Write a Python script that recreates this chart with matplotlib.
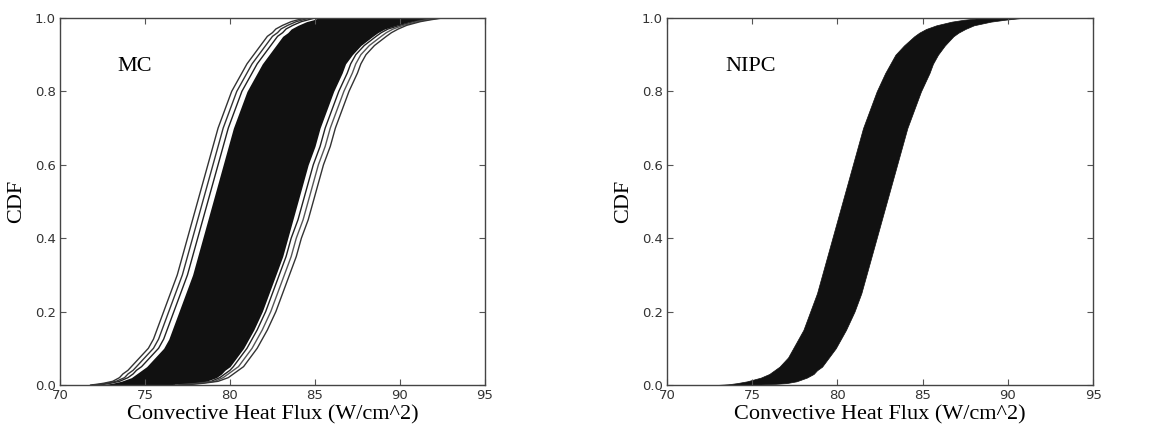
import matplotlib
matplotlib.use('Agg')
import matplotlib.pyplot as plt

cdf_levels = [0.0, 0.002, 0.005, 0.01, 0.02, 0.03, 0.04, 0.05, 0.075, 0.1, 0.125,
              0.15, 0.2, 0.25, 0.3, 0.35, 0.4, 0.45, 0.5, 0.55, 0.6, 0.65, 0.7,
              0.75, 0.8, 0.85, 0.875, 0.9, 0.925, 0.95, 0.96, 0.97, 0.98, 0.99,
              0.995, 1.0]

# MC: a few separate outer sample CDFs, and the dense black core between them
mc_left_a = [71.8, 72.2, 72.6, 73.1, 73.5, 73.7, 74.0, 74.2, 74.7, 75.2, 75.5,
             75.7, 76.1, 76.5, 76.9, 77.2, 77.5, 77.8, 78.1, 78.4, 78.7, 79.0,
             79.3, 79.7, 80.1, 80.7, 81.0, 81.4, 81.8, 82.2, 82.5, 82.7, 83.1,
             83.6, 84.0, 84.5]
mc_left_b = [71.9, 72.4, 72.8, 73.3, 73.8, 74.0, 74.3, 74.5, 75.0, 75.5, 75.8,
             76.0, 76.4, 76.8, 77.2, 77.5, 77.8, 78.1, 78.4, 78.7, 79.0, 79.3,
             79.6, 80.0, 80.4, 81.0, 81.3, 81.7, 82.1, 82.5, 82.8, 83.0, 83.4,
             83.9, 84.3, 84.7]
mc_left_c = [72.0, 72.6, 73.0, 73.5, 74.0, 74.3, 74.5, 74.8, 75.3, 75.8, 76.1,
             76.3, 76.7, 77.1, 77.5, 77.8, 78.1, 78.4, 78.7, 79.0, 79.3, 79.6,
             79.9, 80.3, 80.7, 81.3, 81.6, 82.0, 82.4, 82.8, 83.1, 83.3, 83.7,
             84.2, 84.6, 85.0]
mc_core_left = [72.1, 72.7, 73.1, 73.6, 74.2, 74.5, 74.8, 75.1, 75.6, 76.1, 76.4,
                76.6, 77.0, 77.4, 77.8, 78.1, 78.4, 78.7, 79.0, 79.3, 79.6, 79.9,
                80.2, 80.6, 81.0, 81.6, 81.9, 82.3, 82.7, 83.1, 83.4, 83.6, 84.0,
                84.5, 84.9, 85.2]
mc_core_right = [76.5, 77.2, 77.9, 78.6, 79.2, 79.5, 79.7, 80.0, 80.4, 80.8, 81.1,
                 81.4, 81.9, 82.3, 82.7, 83.1, 83.4, 83.7, 84.0, 84.3, 84.6, 85.0,
                 85.3, 85.7, 86.1, 86.6, 86.8, 87.2, 87.7, 88.4, 88.7, 89.1, 89.8,
                 90.6, 91.2, 92.0]
mc_right_c = [76.7, 77.4, 78.1, 78.9, 79.4, 79.7, 80.0, 80.2, 80.6, 81.0, 81.3,
              81.6, 82.1, 82.5, 82.9, 83.3, 83.6, 84.0, 84.3, 84.6, 84.9, 85.3,
              85.6, 86.0, 86.4, 86.9, 87.1, 87.4, 87.9, 88.6, 88.9, 89.3, 90.0,
              90.8, 91.4, 92.2]
mc_right_b = [76.8, 77.6, 78.3, 79.1, 79.6, 79.9, 80.2, 80.5, 80.9, 81.3, 81.6,
              81.9, 82.4, 82.8, 83.2, 83.6, 83.9, 84.3, 84.6, 84.9, 85.2, 85.6,
              85.9, 86.3, 86.7, 87.2, 87.4, 87.7, 88.2, 88.9, 89.2, 89.6, 90.2,
              91.0, 91.6, 92.4]
mc_right_a = [77.0, 77.8, 78.5, 79.3, 79.9, 80.2, 80.5, 80.8, 81.2, 81.6, 81.9,
              82.2, 82.7, 83.1, 83.5, 83.9, 84.2, 84.6, 84.9, 85.2, 85.5, 85.9,
              86.2, 86.6, 87.0, 87.5, 87.7, 88.0, 88.5, 89.2, 89.5, 89.9, 90.4,
              91.2, 91.8, 92.5]

# NIPC: band between lower and upper CDF bounds
nipc_left = [72.9, 73.6, 74.1, 74.7, 75.5, 76.0, 76.3, 76.6, 77.1, 77.4, 77.7,
             78.0, 78.4, 78.8, 79.1, 79.4, 79.7, 80.0, 80.3, 80.6, 80.9, 81.2,
             81.5, 81.9, 82.3, 82.8, 83.1, 83.4, 83.9, 84.5, 84.8, 85.2, 85.8,
             86.7, 87.4, 88.4]
nipc_right = [74.5, 76.0, 77.0, 77.6, 78.2, 78.6, 78.8, 79.1, 79.5, 79.9, 80.2,
              80.5, 81.0, 81.4, 81.7, 82.0, 82.3, 82.6, 82.9, 83.2, 83.5, 83.8,
              84.1, 84.5, 84.9, 85.4, 85.6, 85.9, 86.3, 86.8, 87.1, 87.5, 88.0,
              89.0, 89.8, 90.8]

x_ticks = [70, 75, 80, 85, 90, 95]
y_ticks = [0.0, 0.2, 0.4, 0.6, 0.8, 1.0]

serif = ['Liberation Serif', 'DejaVu Serif']

fig = plt.figure(figsize=(11.58, 4.28), dpi=100)
ax1 = fig.add_axes([0.0518, 0.1005, 0.367, 0.8575])
ax2 = fig.add_axes([0.576, 0.1005, 0.368, 0.8575])


def style(ax, name):
    ax.set_xlim(70, 95)
    ax.set_ylim(0, 1)
    ax.set_xticks(x_ticks)
    ax.set_yticks(y_ticks)
    ax.set_xticklabels([str(t) for t in x_ticks])
    ax.set_yticklabels(['%.1f' % t for t in y_ticks])
    ax.tick_params(direction='in', length=4, width=0.8, top=True, right=True,
                   labelsize=9.5, labelcolor='#333333', color='#555555', pad=3)
    for s in ax.spines.values():
        s.set_color('#444444')
        s.set_linewidth(1.0)
    ax.set_xlabel('Convective Heat Flux (W/cm^2)', fontsize=16, family=serif,
                  labelpad=2)
    ax.set_ylabel('CDF', fontsize=16, family=serif, labelpad=6)
    ax.text(73.4, 0.868, name, fontsize=16, family=serif, va='center')


# MC panel
ax1.fill_betweenx(cdf_levels, mc_core_left, mc_core_right, color='#111111', lw=0)
for curve in [mc_left_c, mc_right_c]:
    ax1.plot(curve, cdf_levels, color='#222222', lw=1.0)
ax1.plot(mc_right_b, cdf_levels, color='#555555', lw=1.0)
for curve in [mc_left_a, mc_left_b, mc_right_a]:
    ax1.plot(curve, cdf_levels, color='#333333', lw=1.0)
style(ax1, 'MC')

# NIPC panel
ax2.fill_betweenx(cdf_levels, nipc_left, nipc_right, color='#111111', lw=0.5,
                  edgecolor='#111111')
style(ax2, 'NIPC')

fig.savefig('out.png', dpi=100)
